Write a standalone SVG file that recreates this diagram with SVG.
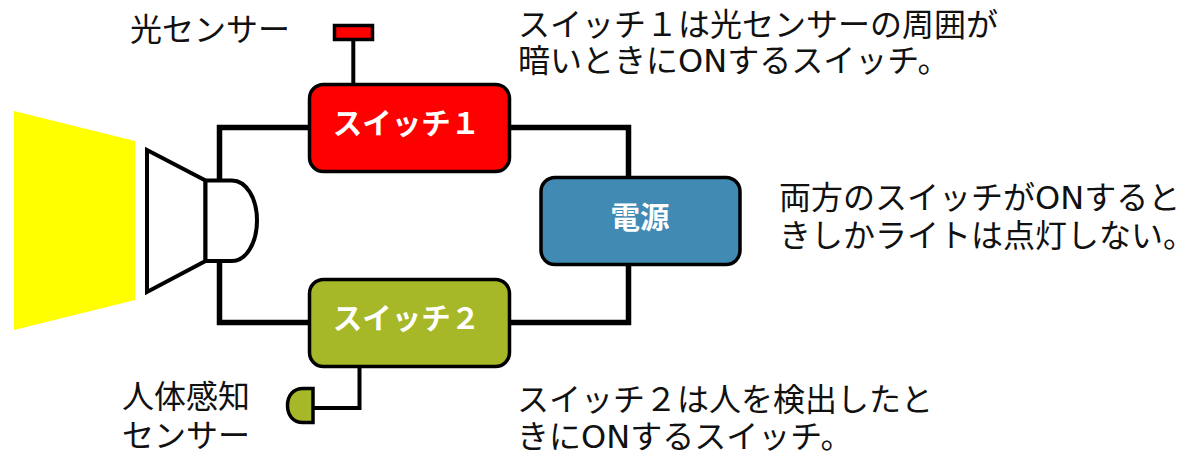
<svg xmlns="http://www.w3.org/2000/svg" width="1184" height="451" viewBox="0 0 1184 451">
<style>
text{font-family:"DejaVu Sans","Noto Sans CJK JP",sans-serif;font-size:32px;fill:#111}
.l{font-weight:700;fill:#fff;font-size:29.500px;text-anchor:middle;font-family:"Noto Sans CJK JP",sans-serif}
.n{stroke:#000;stroke-width:3.500}
.h{stroke:#000;stroke-width:4;fill:#fff}
.w{fill:none;stroke:#000;stroke-width:5.500}
.t{fill:none;stroke:#000;stroke-width:4}
</style>
<rect width="1184" height="451" fill="#fff"/>
<g id="connectors">
<path class="w" d="M308 127.500H219.500V182M219.500 260V322.500H308"/>
<path class="w" d="M510 127.500H628.500V177M628.500 264V322.500H510"/>
<path class="t" d="M353.300 41V84"/>
<path class="t" d="M359.500 366V408H314"/>
</g>
<g id="beam"><polygon points="14,111 135,141 135,300 14,330" fill="#ff0"/></g>
<g id="lamp">
<polygon points="147,150 205.500,180.500 205.500,261 147,292" class="h"/>
<path d="M205.500 180.500H232C246 180.500 257 198 257 220.500C257 243 246 261 232 261H205.500Z" class="h"/>
</g>
<g id="switch1"><rect x="309.500" y="84.500" width="200" height="87" rx="14" fill="#f00" class="n"/><text class="l" x="406.500" y="134">スイッチ１</text></g>
<g id="switch2"><rect x="309.500" y="279.500" width="200" height="87" rx="14" fill="#a6b727" class="n"/><text class="l" x="406.500" y="329">スイッチ２</text></g>
<g id="power"><rect x="541" y="177.500" width="199" height="87" rx="14" fill="#418ab3" class="n"/><text class="l" x="640" y="228">電源</text></g>
<g id="lightSensor"><rect x="334.500" y="25.500" width="38" height="14" fill="#f00" class="n"/><text x="130" y="41">光センサー</text></g>
<g id="humanSensor"><path d="M313 388.500H303C293 388.500 287.500 396 287.500 405.500C287.500 415 293 422.500 303 422.500H313Z" fill="#a6b727" class="n"/><text x="122" y="408">人体感知</text><text x="122" y="447">センサー</text></g>
<g id="notes">
<text x="518" y="36">スイッチ１は光センサーの周囲が</text>
<text x="518" y="72">暗いときにONするスイッチ。</text>
<text x="779" y="209">両方のスイッチがONすると</text>
<text x="779" y="247">きしかライトは点灯しない。</text>
<text x="517" y="411">スイッチ２は人を検出したと</text>
<text x="517" y="448">きにONするスイッチ。</text>
</g>
</svg>
